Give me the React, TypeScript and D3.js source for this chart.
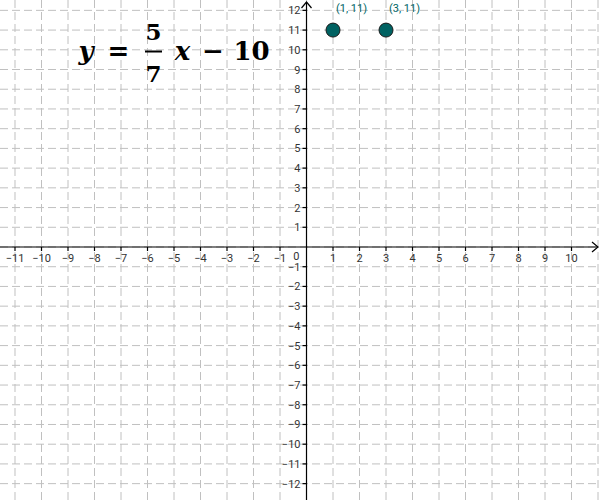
import * as d3 from 'd3';

// axis ticks shown on the chart
const xTicks = [-11, -10, -9, -8, -7, -6, -5, -4, -3, -2, -1, 1, 2, 3, 4, 5, 6, 7, 8, 9, 10];
const yTicks = [-12, -11, -10, -9, -8, -7, -6, -5, -4, -3, -2, -1, 1, 2, 3, 4, 5, 6, 7, 8, 9, 10, 11, 12];
const gridX = [-11, -10, -9, -8, -7, -6, -5, -4, -3, -2, -1, 0, 1, 2, 3, 4, 5, 6, 7, 8, 9, 10, 11];
const gridY = [-13, -12, -11, -10, -9, -8, -7, -6, -5, -4, -3, -2, -1, 0, 1, 2, 3, 4, 5, 6, 7, 8, 9, 10, 11, 12];

// plotted points
const pointX = [1, 3];
const pointY = [11, 11];
const pointLabels = ['(1, 11)', '(3, 11)'];

const width = 600;
const height = 500;

const fmt = (v: number) => (v < 0 ? '\u2212' + Math.abs(v) : String(v));

export default function App() {
  const x = d3.scaleLinear().domain([-11.566, 11.075]).range([0, width]);
  const y = d3.scaleLinear().domain([12.525, -12.83]).range([0, height]);

  const x0 = x(0);
  const y0 = y(0);
  const labelFont = 'Roboto, "Noto Sans", sans-serif';

  return (
    <svg
      width={width}
      height={height}
      style={{ position: 'absolute', left: 0, top: 0, background: '#fff' }}
    >
      {/* grid */}
      <g stroke='#c0c0c0' strokeWidth={1} strokeDasharray='8,4'>
        {gridX.map((v) => (
          <line key={'gx' + v} x1={x(v)} x2={x(v)} y1={0} y2={height} />
        ))}
        {gridY.map((v) => (
          <line key={'gy' + v} x1={0} x2={width} y1={y(v)} y2={y(v)} />
        ))}
      </g>

      {/* axes */}
      <g stroke='#000' strokeWidth={1.2} fill='none'>
        <line x1={0} x2={width - 2} y1={y0} y2={y0} />
        <line x1={x0} x2={x0} y1={height} y2={2} />
        <path d={`M${width - 8},${y0 - 5} L${width - 2},${y0} L${width - 8},${y0 + 5}`} />
        <path d={`M${x0 - 5},8 L${x0},2 L${x0 + 5},8`} />
        {xTicks.map((v) => (
          <line key={'tx' + v} x1={x(v)} x2={x(v)} y1={y0} y2={y0 + 4} />
        ))}
        {yTicks.map((v) => (
          <line key={'ty' + v} x1={x0 - 4} x2={x0} y1={y(v)} y2={y(v)} />
        ))}
      </g>

      {/* tick labels */}
      <g fontFamily={labelFont} fontSize={11} fill='#333'>
        {xTicks.map((v) => (
          <text key={'lx' + v} x={x(v)} y={y0 + 15} textAnchor='middle'>
            {fmt(v)}
          </text>
        ))}
        {yTicks.map((v) => (
          <text key={'ly' + v} x={x0 - 6} y={y(v) + 4} textAnchor='end'>
            {fmt(v)}
          </text>
        ))}
        <text x={x0 - 7} y={y0 + 13} textAnchor='end'>
          0
        </text>
      </g>

      {/* points */}
      {pointX.map((px, i) => (
        <g key={'p' + i}>
          <circle cx={x(px)} cy={y(pointY[i])} r={7} fill='#006262' stroke='#1a1a1a' strokeWidth={1} />
          <text
            x={x(px) + 3}
            y={y(pointY[i]) - 18}
            fontFamily={labelFont}
            fontSize={11}
            fill='#006666'
          >
            {pointLabels[i]}
          </text>
        </g>
      ))}

      {/* formula */}
      <g fontFamily='"DejaVu Serif", serif' fontWeight='bold' fill='#000'>
        <text x={86} y={60} fontSize={26} fontStyle='italic' textAnchor='middle'>
          y
        </text>
        <text x={118.5} y={60} fontSize={26} textAnchor='middle'>
          =
        </text>
        <text x={153.5} y={39.5} fontSize={23} textAnchor='middle'>
          5
        </text>
        <line x1={145} x2={162} y1={51.5} y2={51.5} stroke='#000' strokeWidth={2} />
        <text x={153.5} y={81.5} fontSize={23} textAnchor='middle'>
          7
        </text>
        <text x={182.5} y={60} fontSize={26} fontStyle='italic' textAnchor='middle'>
          x
        </text>
        <text x={213} y={60} fontSize={26} textAnchor='middle'>
          {'\u2212'}
        </text>
        <text x={251.5} y={60} fontSize={26} textAnchor='middle'>
          10
        </text>
      </g>
    </svg>
  );
}
